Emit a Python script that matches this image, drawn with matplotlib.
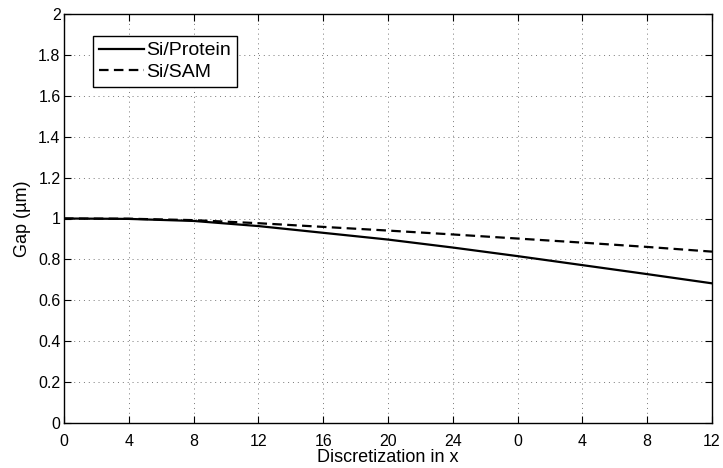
import matplotlib.pyplot as plt
import numpy as np

# valores
x = [0, 4, 8, 12, 16, 20, 24, 28, 32, 36, 40]
si_protein = [1.0, 0.998, 0.988, 0.963, 0.930, 0.897, 0.858, 0.816, 0.772, 0.728, 0.683]
si_sam = [1.0, 0.999, 0.992, 0.977, 0.959, 0.941, 0.922, 0.902, 0.882, 0.861, 0.838]
xtick_pos = [0, 4, 8, 12, 16, 20, 24, 28, 32, 36, 40]
xtick_labels = ['0', '4', '8', '12', '16', '20', '24', '0', '4', '8', '12']

plt.rcParams['font.family'] = ['Liberation Sans', 'DejaVu Sans']

fig = plt.figure(figsize=(7.23, 4.68), dpi=100)
ax = fig.add_axes([64 / 723, 1 - 423 / 468, (712 - 64) / 723, (423 - 14) / 468])

ax.plot(x, si_protein, color='black', linewidth=1.6, linestyle='-', label='Si/Protein')
ax.plot(x, si_sam, color='black', linewidth=1.6, linestyle=(0, (4.3, 2.4)), label='Si/SAM')

ax.set_xlim(0, 40)
ax.set_ylim(0, 2)
ax.set_xticks(xtick_pos)
ax.set_xticklabels(xtick_labels)
ax.set_yticks(np.arange(0, 2.01, 0.2))
ax.set_yticklabels(['0', '0.2', '0.4', '0.6', '0.8', '1', '1.2', '1.4', '1.6', '1.8', '2'])

ax.tick_params(direction='in', length=5, width=0.8, top=True, right=True, labelsize=11.5)
ax.tick_params(axis='y', pad=2.5)
ax.tick_params(axis='x', pad=8)
ax.grid(True, color='#777777', linestyle=(0, (1, 4)), linewidth=0.7)
for s in ax.spines.values():
    s.set_linewidth(1.0)

ax.set_xlabel('Discretization in x', fontsize=13, labelpad=0)
ax.set_ylabel('Gap (µm)', fontsize=13, labelpad=5)

leg = ax.legend(loc='upper left', bbox_to_anchor=(29 / 648, 1 - 22 / 409), fontsize=14, frameon=True,
                fancybox=False, edgecolor='black', framealpha=1, borderpad=0.3,
                handlelength=2.3, handletextpad=0.15, labelspacing=0.2, borderaxespad=0)
leg.get_frame().set_linewidth(1.0)

fig.savefig('out.png', dpi=100)
